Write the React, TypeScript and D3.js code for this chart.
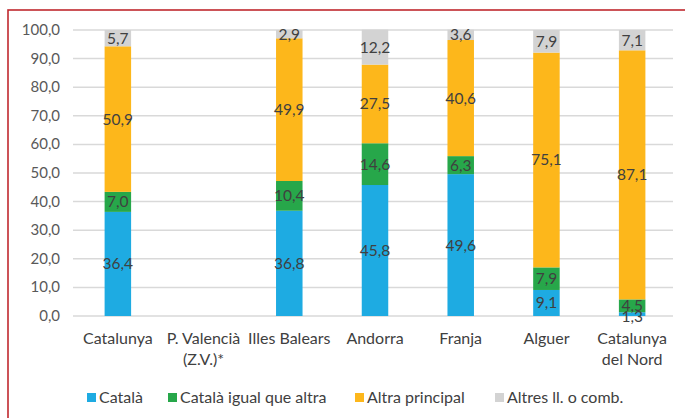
import React from "react";
import * as d3 from "d3";

const categories = ["Catalunya", "P. Valencià\n(Z.V.)*", "Illes Balears", "Andorra", "Franja", "Alguer", "Catalunya\ndel Nord"];
const seriesNames = ["Català", "Català igual que altra", "Altra principal", "Altres ll. o comb."];
const catala = [36.4, null, 36.8, 45.8, 49.6, 9.1, 1.3];
const catalaIgual = [7.0, null, 10.4, 14.6, 6.3, 7.9, 4.5];
const altraPrincipal = [50.9, null, 49.9, 27.5, 40.6, 75.1, 87.1];
const altres = [5.7, null, 2.9, 12.2, 3.6, 7.9, 7.1];
const yTicks = [0, 10, 20, 30, 40, 50, 60, 70, 80, 90, 100];
const colors = ["#1eabe2", "#27a74a", "#fdb71b", "#d3d3d3"];

const W = 685, H = 418;
const FONT = "Lato, 'Open Sans', sans-serif";

export default function App() {
  const x = d3.scaleBand().domain(categories).range([75, 675]).paddingInner(0).paddingOuter(0);
  const y = d3.scaleLinear().domain([0, 100]).range([316, 30]);
  const bw = 26.5;
  const series = [catala, catalaIgual, altraPrincipal, altres];
  const fmt = (v: number) => v.toFixed(1).replace(".", ",");

  const legendX = [87, 168, 355, 495];

  return (
    <svg width={W} height={H} style={{ position: "absolute", left: 0, top: 0, background: "#fff" }} fontFamily={FONT}>
      <rect x={0} y={0} width={W} height={H} fill="#fff" />
      <rect x={8} y={10} width={800} height={600} fill="none" stroke="#c0282f" strokeWidth={1.6} />
      {yTicks.map((t) => (
        <g key={t}>
          <line x1={73} x2={673} y1={y(t)} y2={y(t)} stroke="#d9d9d9" strokeWidth={1.5} />
          <text x={60} y={y(t) + 5} textAnchor="end" fontSize={15} fill="#595959">{fmt(t)}</text>
        </g>
      ))}
      {categories.map((c, i) => {
        let acc = 0;
        const cx = (x(c) as number) + x.bandwidth() / 2;
        return (
          <g key={c}>
            {series.map((s, k) => {
              const v = s[i];
              if (v == null) return null;
              const y0 = acc, y1 = acc + v;
              acc = y1;
              return (
                <rect key={k} x={cx - bw / 2} width={bw} y={y(y1)} height={y(y0) - y(y1)} fill={colors[k]} />
              );
            })}
          </g>
        );
      })}
      {categories.map((c, i) => {
        let acc = 0;
        const cx = (x(c) as number) + x.bandwidth() / 2;
        return (
          <g key={c + "l"}>
            {series.map((s, k) => {
              const v = s[i];
              if (v == null) return null;
              const mid = acc + v / 2;
              acc += v;
              let ly = y(mid) + 5.5;
              if (v < 2) ly = y(0) + 6;
              return (
                <text key={k} x={cx} y={ly} textAnchor="middle" fontSize={15.5} fill="#404040">{fmt(v)}</text>
              );
            })}
          </g>
        );
      })}
      {categories.map((c) => {
        const cx = (x(c) as number) + x.bandwidth() / 2;
        return c.split("\n").map((line, j) => (
          <text key={c + j} x={cx} y={344 + j * 21} textAnchor="middle" fontSize={16} fill="#404040">{line}</text>
        ));
      })}
      {seriesNames.map((n, k) => (
        <g key={n}>
          <rect x={legendX[k]} y={393} width={9} height={9} fill={colors[k]} />
          <text x={legendX[k] + 12} y={402.5} fontSize={16} fill="#404040">{n}</text>
        </g>
      ))}
    </svg>
  );
}
